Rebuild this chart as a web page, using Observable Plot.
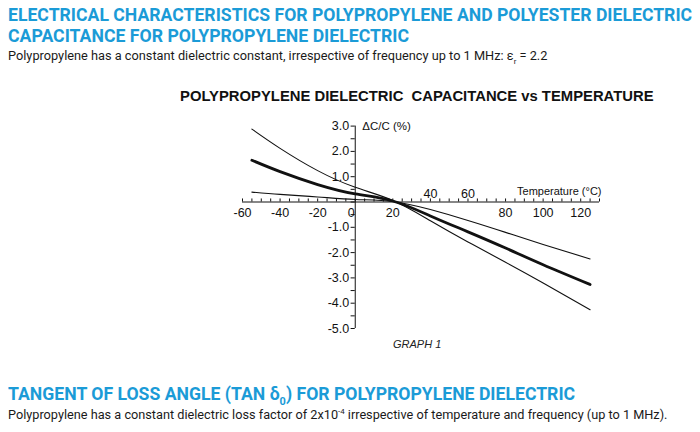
<!DOCTYPE html>
<html><head><meta charset="utf-8">
<script src="https://cdn.jsdelivr.net/npm/d3@7"></script>
<script src="https://cdn.jsdelivr.net/npm/@observablehq/plot@0.6"></script>
<style>
html,body{margin:0;padding:0;background:#fff}
body{width:700px;height:432px;position:relative;overflow:hidden}
.t{position:absolute;white-space:nowrap;transform-origin:0 0;line-height:1}
.h{font-family:Roboto,sans-serif;font-weight:700;font-size:18.5px;color:#1b9bd7;left:8px}
.s{font-family:Roboto,sans-serif;font-size:12.5px;color:#1a1a1a;left:8px}
.ct{font-family:"Liberation Sans",Arial,sans-serif;font-weight:700;font-size:15px;color:#111;left:180px}
.g{font-family:"Liberation Sans",Arial,sans-serif;font-style:italic;font-size:11px;color:#222;left:393px}
sub,sup{font-size:0.62em;line-height:0}
#chart{position:absolute;left:0;top:110px}
</style></head>
<body>
<div class="t h" style="top:6px" data-w="684">ELECTRICAL CHARACTERISTICS FOR POLYPROPYLENE AND POLYESTER DIELECTRIC</div>
<div class="t h" style="top:27px" data-w="401">CAPACITANCE FOR POLYPROPYLENE DIELECTRIC</div>
<div class="t s" style="top:49.5px" data-w="539">Polypropylene has a constant dielectric constant, irrespective of frequency up to 1 MHz: ε<sub>r</sub> = 2.2</div>
<div class="t ct" style="top:88px" data-w="474">POLYPROPYLENE DIELECTRIC&nbsp; CAPACITANCE vs TEMPERATURE</div>
<div id="chart"></div>
<div class="t g" style="top:339px">GRAPH 1</div>
<div class="t h" style="top:385px" data-w="567">TANGENT OF LOSS ANGLE (TAN δ<sub>0</sub>) FOR POLYPROPYLENE DIELECTRIC</div>
<div class="t s" style="top:409px" data-w="660">Polypropylene has a constant dielectric loss factor of 2x10<sup>-4</sup> irrespective of temperature and frequency (up to 1 MHz).</div>
<script>
// Data
const temps     = [-55, -40, -20, 0, 20, 40, 60, 80, 100, 125];
const capSteep  = [2.88, 2.12, 1.24, 0.58, 0.06, -0.74, -1.58, -2.38, -3.20, -4.26];
const capMid    = [1.65, 1.20, 0.69, 0.32, 0.04, -0.55, -1.18, -1.82, -2.48, -3.26];
const capFlat   = [0.39, 0.30, 0.20, 0.10, 0.02, -0.30, -0.73, -1.20, -1.68, -2.25];

const xLabelsBelow = [-60, -40, -20, 20, 80, 100, 120];
const xLabelsAbove = [40, 60];
const xLabelZero   = [0];
const yLabels      = [3, 2, 1, -1, -2, -3, -4, -5];
const xMinorTicks  = d3.range(-60, 131, 5);
const yMinorTicks  = d3.range(-5, 3.001, 0.5);
const xTitle = "Temperature (°C)";
const yTitle = "ΔC/C (%)";

const thin = temps.flatMap((t, i) => [
  {t, v: capSteep[i], s: "steep"},
  {t, v: capFlat[i], s: "flat"}
]);
const mid = temps.map((t, i) => ({t, v: capMid[i]}));

const ink = "#111";
const fs = 12.5;
const chart = Plot.plot({
  width: 700, height: 240,
  marginLeft: 242, marginRight: 101, marginTop: 15.6, marginBottom: 22,
  x: {domain: [-60, 130], axis: null},
  y: {domain: [-5, 3], axis: null},
  style: {background: "transparent", fontFamily: "'Liberation Sans', Arial, sans-serif", color: ink, overflow: "visible"},
  marks: [
    Plot.ruleY([0], {x1: -60, x2: 130, stroke: ink, strokeWidth: 1}),
    Plot.ruleX(xMinorTicks, {x: d => d, y1: 0, y2: 0.12, stroke: ink, strokeWidth: 1}),
    Plot.ruleX([0], {y1: -5, y2: 3, stroke: ink, strokeWidth: 1}),
    Plot.ruleY(yMinorTicks, {y: d => d, x1: -2.2, x2: 0, stroke: ink, strokeWidth: 1}),
    Plot.text(yLabels, {x: 0, y: d => d, text: d => d.toFixed(1), textAnchor: "end", dx: -6, fill: ink, fontSize: fs}),
    Plot.text(xLabelsBelow, {x: d => d, y: 0, text: d => String(d), dy: 11, fill: ink, fontSize: fs}),
    Plot.text(xLabelsAbove, {x: d => d, y: 0, text: d => String(d), dy: -8.5, fill: ink, fontSize: fs}),
    Plot.text(xLabelZero, {x: d => d, y: 0, text: d => String(d), dy: 11, dx: -4, fill: ink, fontSize: fs}),
    Plot.text([yTitle], {x: 0, y: 3, text: d => d, textAnchor: "start", dx: 7, fontSize: 11.5, fill: ink}),
    Plot.text([xTitle], {x: 130, y: 0, text: d => d, textAnchor: "end", dx: 2, dy: -10.5, fontSize: 11, fill: ink}),
    Plot.line(thin, {x: "t", y: "v", z: "s", curve: "natural", stroke: ink, strokeWidth: 1.1}),
    Plot.line(mid, {x: "t", y: "v", curve: "natural", stroke: ink, strokeWidth: 2.8})
  ]
});
document.getElementById("chart").append(chart);

function fit() {
  document.querySelectorAll(".t[data-w]").forEach(el => {
    const w = el.offsetWidth;
    if (w > 0) el.style.transform = `scaleX(${(+el.dataset.w / w).toFixed(4)})`;
  });
}
fit();
if (document.fonts && document.fonts.ready) document.fonts.ready.then(fit);
</script>
</body></html>
